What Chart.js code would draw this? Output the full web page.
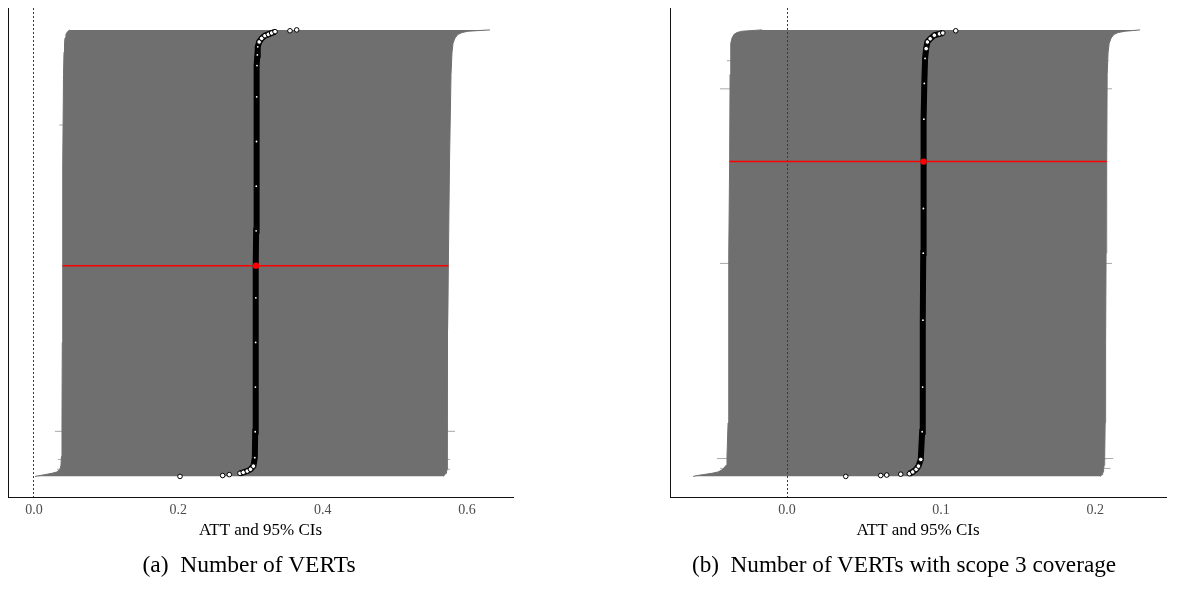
<!DOCTYPE html>
<html>
<head>
<meta charset="utf-8">
<script src="https://cdn.jsdelivr.net/npm/chart.js@4.4.1/dist/chart.umd.min.js"></script>
<style>
  html, body { margin: 0; padding: 0; background: #fff; }
  body { width: 1177px; height: 590px; position: relative; overflow: hidden; font-family: 'Liberation Serif', 'Times New Roman', serif; }
  .panel { position: absolute; top: 0; height: 590px; }
  .cap { position: absolute; top: 551px; font-size: 23.5px; color: #000; white-space: pre; transform: translateX(-50%); }
</style>
</head>
<body>
<div class="panel" style="left:0; width:525px;"><canvas id="chartA"></canvas></div>
<div class="panel" style="left:660px; width:517px;"><canvas id="chartB"></canvas></div>
<div class="cap" style="left:249px;">(a)  Number of VERTs</div>
<div class="cap" style="left:904px; font-size:23.2px;">(b)  Number of VERTs with scope 3 coverage</div>

<script>
// (a) Number of VERTs -- specifications sorted by estimate, rank 0 = bottom row
var estRankA = [0, 2, 4, 7, 9, 12, 16, 23, 42, 100, 200, 300, 400, 472, 550, 650, 750, 850, 920, 944, 962, 973, 981, 987, 990, 993, 996, 998, 1000];
var estA = [0.2023, 0.2614, 0.2706, 0.2854, 0.2900, 0.2955, 0.3000, 0.3040, 0.3060, 0.3065, 0.3068, 0.3071, 0.3074, 0.3076, 0.3078, 0.3080, 0.3083, 0.3086, 0.3090, 0.3095, 0.3100, 0.3120, 0.3155, 0.3200, 0.3247, 0.3293, 0.3340, 0.3547, 0.3640];
var bandRankA = [0, 2, 4, 7, 10, 16, 25, 45, 120, 300, 500, 700, 900, 950, 970, 982, 990, 994, 997, 1000];
var loA = [0.0014, 0.0083, 0.0152, 0.0250, 0.0319, 0.0360, 0.0374, 0.0381, 0.0388, 0.0392, 0.0395, 0.0402, 0.0409, 0.0416, 0.0423, 0.0430, 0.0443, 0.0457, 0.0471, 0.0499];
var hiA = [0.5667, 0.5681, 0.5695, 0.5709, 0.5716, 0.5723, 0.5723, 0.5723, 0.5730, 0.5736, 0.5743, 0.5757, 0.5778, 0.5792, 0.5806, 0.5834, 0.5875, 0.5930, 0.6014, 0.6318];
var wideRankA = [101, 38, 16, 787];
var wideLoA = [0.0290, 0.0333, 0.0319, 0.0350];
var wideHiA = [0.5833, 0.5764, 0.5764, 0.5750];
var hlRankA = 472, hlEstA = 0.3076, hlLoA = 0.0395, hlHiA = 0.5743;
var tickA = [0, 0.2, 0.4, 0.6];

// (b) Number of VERTs with scope 3 coverage
var estRankB = [0, 2, 3, 5, 6, 10, 16, 23, 38, 100, 200, 350, 500, 600, 705, 800, 880, 936, 958, 973, 980, 988, 991, 993, 998];
var estB = [0.0381, 0.0608, 0.0647, 0.0738, 0.0794, 0.0816, 0.0838, 0.0853, 0.0868, 0.0877, 0.0880, 0.0882, 0.0884, 0.0885, 0.0886, 0.0888, 0.0891, 0.0896, 0.0903, 0.0911, 0.0929, 0.0956, 0.0989, 0.1011, 0.1095];
var bandRankB = [0, 2, 4, 7, 10, 16, 25, 45, 120, 300, 500, 700, 900, 950, 970, 982, 990, 994, 997, 1000];
var loB = [-0.0610, -0.0584, -0.0545, -0.0487, -0.0448, -0.0416, -0.0396, -0.0390, -0.0383, -0.0380, -0.0377, -0.0373, -0.0370, -0.0367, -0.0364, -0.0357, -0.0344, -0.0325, -0.0292, -0.0162];
var hiB = [0.2032, 0.2039, 0.2045, 0.2049, 0.2052, 0.2055, 0.2058, 0.2062, 0.2065, 0.2068, 0.2071, 0.2075, 0.2078, 0.2084, 0.2091, 0.2104, 0.2123, 0.2149, 0.2195, 0.2292];
var wideRankB = [868, 40, 18, 931, 477];
var wideLoB = [-0.0435, -0.0455, -0.0435, -0.0390, -0.0435];
var wideHiB = [0.2110, 0.2117, 0.2100, 0.2087, 0.2110];
var hlRankB = 705, hlEstB = 0.0886, hlLoB = -0.0373, hlHiB = 0.2075;
var tickB = [0, 0.1, 0.2];

Chart.defaults.font.family = "'Liberation Serif', 'Times New Roman', serif";
Chart.defaults.animation = false;

var BAND = '#6f6f6f';

function pts(xs, ys) {
  return xs.map(function(x, i) { return { x: x, y: ys[i] }; });
}

function makeChart(id, d) {
  var datasets = [
    { data: pts(d.lo, d.bandRank), borderColor: BAND, borderWidth: 1, pointRadius: 0, fill: '+1', backgroundColor: BAND, order: 6 },
    { data: pts(d.hi, d.bandRank), borderColor: BAND, borderWidth: 1, pointRadius: 0, fill: false, order: 6 }
  ];
  // single rows with wider intervals, only their ends stick out of the band
  d.wideRank.forEach(function(r, i) {
    datasets.push({ data: [{ x: d.wideLo[i], y: r }, { x: d.wideHi[i], y: r }], borderColor: '#a9a9a9', borderWidth: 1, pointRadius: 0, fill: false, order: 8 });
  });
  datasets.push({ data: [{ x: d.hlLo, y: d.hlRank }, { x: d.hlHi, y: d.hlRank }], borderColor: '#ff0000', borderWidth: 1.5, pointRadius: 0, fill: false, order: 3 });

  function isTail(c) { return Math.abs(c.raw.x - d.hlEst) > d.tol; }
  datasets.push({
    data: pts(d.est, d.estRank),
    borderColor: '#000',
    borderWidth: 6,
    fill: false,
    segment: { borderColor: function(c) { return Math.abs(c.p1.x - c.p0.x) > 5.5 ? 'transparent' : '#000'; } },
    pointRadius: function(c) { return isTail(c) ? 2.3 : 0.9; },
    pointBorderWidth: function(c) { return isTail(c) ? 1 : 0; },
    pointBorderColor: '#000',
    pointBackgroundColor: '#fff',
    order: 2
  });
  datasets.push({ data: [{ x: d.hlEst, y: d.hlRank }], showLine: false, fill: false, pointRadius: 3.2, pointBorderWidth: 0, pointBackgroundColor: '#ff0000', order: 1 });

  return new Chart(document.getElementById(id), {
    type: 'line',
    data: { datasets: datasets },
    options: {
      indexAxis: 'y',
      responsive: true,
      maintainAspectRatio: false,
      layout: { padding: d.pad },
      elements: { line: { tension: 0 }, point: { hitRadius: 0 } },
      plugins: { legend: { display: false }, tooltip: { enabled: false }, title: { display: false } },
      scales: {
        x: {
          type: 'linear',
          min: d.xMin,
          max: d.xMax,
          afterBuildTicks: function(s) { s.ticks = d.ticks.map(function(v) { return { value: v }; }); },
          ticks: { padding: 6, color: '#4d4d4d', font: { size: 14, lineHeight: 1 }, callback: function(v) { return Number(v).toFixed(1); } },
          grid: {
            drawTicks: false,
            z: 1,
            lineWidth: 1,
            color: function(c) { return c.tick && Math.abs(c.tick.value) < 1e-9 ? '#3a3a3a' : 'transparent'; }
          },
          border: { display: true, color: '#111', width: 1, dash: [2, 2], z: 1 },
          title: { display: true, text: 'ATT and 95% CIs', color: '#000', font: { size: 17, lineHeight: 0.8 }, padding: { top: 0, bottom: 8 } }
        },
        y: {
          type: 'linear',
          min: -47,
          max: 1049,
          ticks: { display: false },
          grid: { display: false, drawTicks: false },
          border: { display: true, color: '#111', width: 1 }
        }
      }
    }
  });
}

makeChart('chartA', {
  estRank: estRankA, est: estA, bandRank: bandRankA, lo: loA, hi: hiA,
  wideRank: wideRankA, wideLo: wideLoA, wideHi: wideHiA,
  hlRank: hlRankA, hlEst: hlEstA, hlLo: hlLoA, hlHi: hlHiA,
  ticks: tickA, xMin: -0.036, xMax: 0.6637, tol: 0.003,
  pad: { left: 8, right: 12, top: 8, bottom: 45 }
});

makeChart('chartB', {
  estRank: estRankB, est: estB, bandRank: bandRankB, lo: loB, hi: hiB,
  wideRank: wideRankB, wideLo: wideLoB, wideHi: wideHiB,
  hlRank: hlRankB, hlEst: hlEstB, hlLo: hlLoB, hlHi: hlHiB,
  ticks: tickB, xMin: -0.076, xMax: 0.246, tol: 0.0015,
  pad: { left: 10, right: 11, top: 8, bottom: 45 }
});
</script>
</body>
</html>
